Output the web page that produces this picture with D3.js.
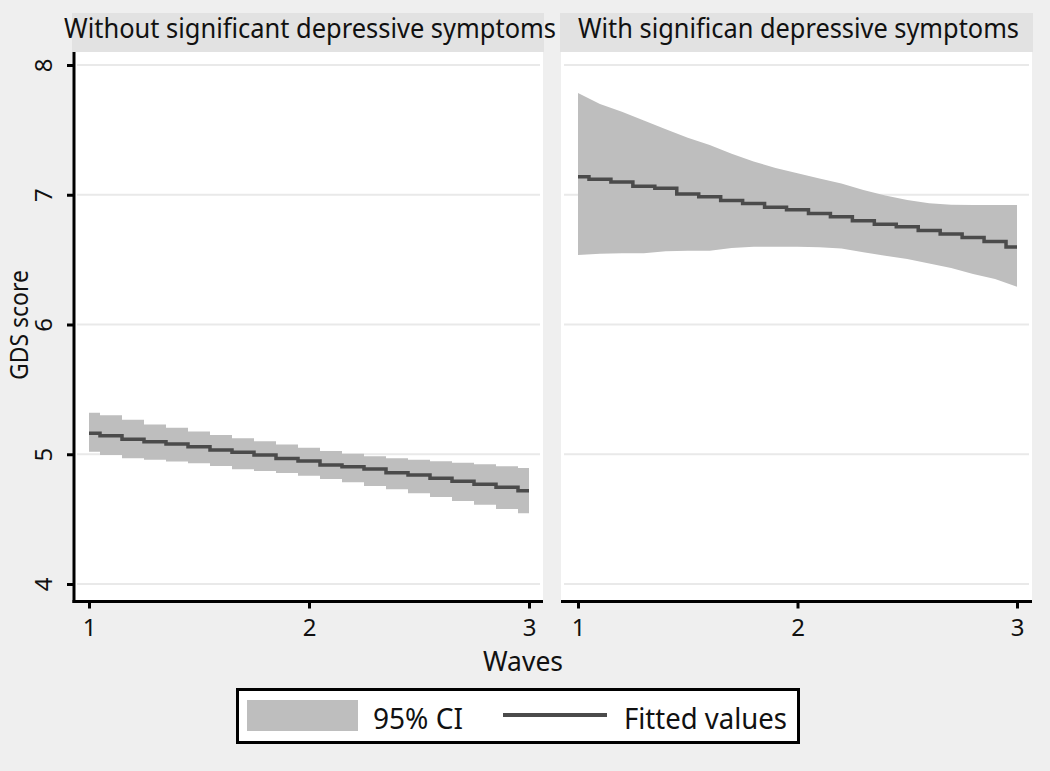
<!DOCTYPE html>
<html>
<head>
<meta charset="utf-8">
<script src="https://cdn.jsdelivr.net/npm/d3@7"></script>
<style>
  html, body { margin: 0; padding: 0; background: #efefef; }
  svg { display: block; }
  text { font-family: "Noto Sans", "Open Sans", sans-serif; fill: #111; }
</style>
</head>
<body>
<svg id="chart" width="1050" height="771"></svg>
<script>
// ---------------- data ----------------
const waves = [1.0, 1.1, 1.2, 1.3, 1.4, 1.5, 1.6, 1.7, 1.8, 1.9, 2.0,
               2.1, 2.2, 2.3, 2.4, 2.5, 2.6, 2.7, 2.8, 2.9, 3.0];

const panelTitles = ["Without significant depressive symptoms",
                     "With significan depressive symptoms"];

// Panel 1: without significant depressive symptoms
const fittedWithout = [5.161, 5.143, 5.115, 5.097, 5.079, 5.058, 5.033, 5.015, 4.994, 4.968, 4.948,
                       4.917, 4.904, 4.886, 4.858, 4.840, 4.815, 4.792, 4.768, 4.745, 4.719];
const upperWithout  = [5.320, 5.300, 5.265, 5.230, 5.205, 5.175, 5.148, 5.123, 5.100, 5.075, 5.050,
                       5.025, 5.003, 4.985, 4.970, 4.958, 4.946, 4.935, 4.922, 4.908, 4.894];
const lowerWithout  = [5.020, 4.995, 4.970, 4.958, 4.945, 4.930, 4.910, 4.885, 4.870, 4.855, 4.835,
                       4.810, 4.785, 4.755, 4.730, 4.700, 4.670, 4.640, 4.610, 4.578, 4.545];

// Panel 2: with significant depressive symptoms
const fittedWith = [7.139, 7.120, 7.098, 7.066, 7.050, 7.005, 6.985, 6.955, 6.932, 6.903, 6.884,
                    6.855, 6.830, 6.800, 6.773, 6.754, 6.725, 6.698, 6.670, 6.640, 6.597];
const upperWith  = [7.785, 7.700, 7.640, 7.573, 7.505, 7.440, 7.383, 7.316, 7.256, 7.206, 7.165,
                    7.126, 7.086, 7.037, 6.994, 6.960, 6.935, 6.922, 6.921, 6.921, 6.921];
const lowerWith  = [6.536, 6.545, 6.549, 6.549, 6.565, 6.569, 6.569, 6.590, 6.600, 6.600, 6.600,
                    6.595, 6.586, 6.556, 6.530, 6.505, 6.470, 6.435, 6.390, 6.350, 6.291];

const yTicks = [4, 5, 6, 7, 8];
const xTicks = [1, 2, 3];
const yTitle = "GDS score";
const xTitle = "Waves";
const legendLabels = ["95% CI", "Fitted values"];

// ---------------- styling / layout ----------------
const C = {
  header: "#e2e2e2",
  plot: "#ffffff",
  grid: "#e9e9e9",
  band: "#bebebe",
  line: "#4b4b4b",
  axis: "#000000"
};

const plotTop = 52, plotBottom = 600, axisY = 601.5;
const panels = [
  { title: panelTitles[0], fitted: fittedWithout, upper: upperWithout, lower: lowerWithout,
    x0: 74, x1: 543, hx0: 72, hx1: 544, range: [89, 529], titleW: 492, titleCx: 310, step: true },
  { title: panelTitles[1], fitted: fittedWith, upper: upperWith, lower: lowerWith,
    x0: 561, x1: 1032, hx0: 560, hx1: 1033, range: [578, 1017], titleW: 441, titleCx: 798.5, step: false }
];

const y = d3.scaleLinear().domain([4, 8]).range([584, 65]);

const svg = d3.select("#chart");
svg.append("rect").attr("width", 1050).attr("height", 771).attr("fill", "#efefef");

// set glyph height by font-size, then match the reference width
function fitWidth(sel, w) {
  sel.attr("textLength", w).attr("lengthAdjust", "spacingAndGlyphs");
  return sel;
}

panels.forEach((p, i) => {
  const x = d3.scaleLinear().domain([1, 3]).range(p.range);
  const g = svg.append("g");

  // header
  g.append("rect").attr("x", p.hx0).attr("y", 13).attr("width", p.hx1 - p.hx0).attr("height", plotTop - 13)
    .attr("fill", C.header);
  const t = g.append("text").attr("x", p.titleCx - p.titleW / 2).attr("y", 37.5)
    .attr("font-size", 26.5).text(p.title);
  fitWidth(t, p.titleW);

  // plot region
  g.append("rect").attr("x", p.x0).attr("y", plotTop).attr("width", p.x1 - p.x0).attr("height", plotBottom - plotTop)
    .attr("fill", C.plot);

  // gridlines
  g.selectAll(".grid").data(yTicks).join("line")
    .attr("x1", p.x0 + 3).attr("x2", p.x1 - 3)
    .attr("y1", d => y(d)).attr("y2", d => y(d))
    .attr("stroke", C.grid).attr("stroke-width", 2);

  const rows = waves.map((w, k) => ({ w, f: p.fitted[k], u: p.upper[k], l: p.lower[k] }));
  const curve = p.step ? d3.curveStep : d3.curveLinear;

  g.append("path").datum(rows)
    .attr("d", d3.area().x(d => x(d.w)).y0(d => y(d.l)).y1(d => y(d.u)).curve(curve))
    .attr("fill", C.band);

  g.append("path").datum(rows)
    .attr("d", d3.line().x(d => x(d.w)).y(d => y(d.f)).curve(d3.curveStep))
    .attr("fill", "none").attr("stroke", C.line).attr("stroke-width", 3.5);

  // x axis
  const xa = g.append("g").attr("transform", `translate(0,${axisY})`)
    .call(d3.axisBottom(x).tickValues(xTicks).tickSize(7).tickPadding(8).tickFormat(d3.format("d")));
  xa.select(".domain").remove();
  xa.selectAll(".tick line").attr("stroke", C.axis).attr("stroke-width", 3);
  xa.selectAll(".tick text").attr("font-size", 24).attr("font-family", "\"Noto Sans\", sans-serif")
    .attr("fill", "#111").attr("dy", null).attr("y", 34.5);
  g.append("line").attr("x1", i === 0 ? 72.5 : p.x0).attr("x2", p.x1)
    .attr("y1", axisY).attr("y2", axisY).attr("stroke", C.axis).attr("stroke-width", 3);

  if (i === 0) {
    const ya = g.append("g").attr("transform", `translate(${p.x0},0)`)
      .call(d3.axisLeft(y).tickValues(yTicks).tickSize(7).tickFormat(d3.format("d")));
    ya.select(".domain").remove();
    ya.selectAll(".tick line").attr("stroke", C.axis).attr("stroke-width", 3);
    ya.selectAll(".tick text")
      .attr("font-size", 24).attr("font-family", "\"Noto Sans\", sans-serif").attr("fill", "#111")
      .attr("x", null).attr("dy", null)
      .attr("text-anchor", "middle")
      .attr("transform", "translate(-22,0) rotate(-90)")
      .attr("y", 0);
    g.append("line").attr("x1", p.x0).attr("x2", p.x0).attr("y1", plotTop).attr("y2", axisY + 1.5)
      .attr("stroke", C.axis).attr("stroke-width", 3);
  }
});

// axis titles
const yt = svg.append("text").attr("transform", "translate(28,380) rotate(-90)")
  .attr("font-size", 25).text(yTitle);
fitWidth(yt, 110);
const xt = svg.append("text").attr("x", 483).attr("y", 671)
  .attr("font-size", 27).text(xTitle);
fitWidth(xt, 80);

// legend
const lg = svg.append("g");
lg.append("rect").attr("x", 237.5).attr("y", 689.5).attr("width", 561).attr("height", 53)
  .attr("fill", "#fff").attr("stroke", "#000").attr("stroke-width", 3);
lg.append("rect").attr("x", 247).attr("y", 700).attr("width", 111).attr("height", 31).attr("fill", C.band);
const l1 = lg.append("text").attr("x", 373).attr("y", 729).attr("font-size", 28.5).text(legendLabels[0]);
fitWidth(l1, 90);
lg.append("line").attr("x1", 503).attr("x2", 607).attr("y1", 715).attr("y2", 715)
  .attr("stroke", C.line).attr("stroke-width", 4);
const l2 = lg.append("text").attr("x", 624).attr("y", 729).attr("font-size", 28.5).text(legendLabels[1]);
fitWidth(l2, 163);
</script>
</body>
</html>
